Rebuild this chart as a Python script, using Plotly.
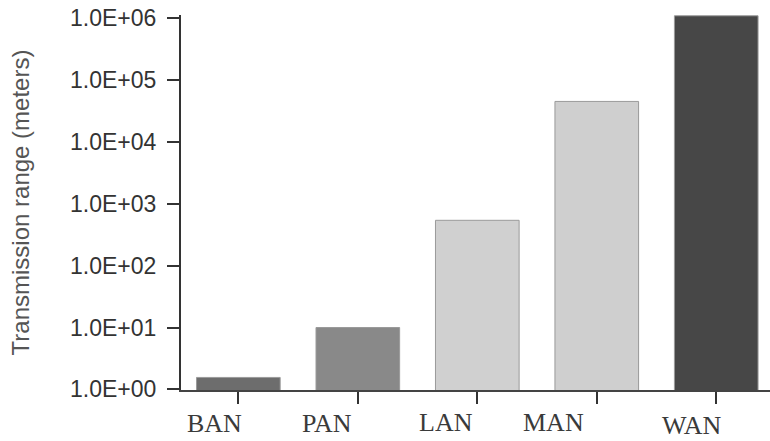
import plotly.graph_objects as go

categories = ["BAN", "PAN", "LAN", "MAN", "WAN"]
ranges_m = [1.56, 10.0, 540.0, 45000.0, 1.09e6]
bar_colors = ["#6d6d6d", "#898989", "#d0d0d0", "#cfcfcf", "#474747"]
tick_vals = [1, 10, 100, 1000, 10000, 100000, 1000000]
tick_text = ["1.0E+00", "1.0E+01", "1.0E+02", "1.0E+03", "1.0E+04", "1.0E+05", "1.0E+06"]
label_xshift = [-24, -31, -31, -43, -25]
label_yshift = [-33, -33, -32, -32, -35]

fig = go.Figure()
fig.add_trace(go.Bar(
    x=categories, y=ranges_m, width=0.7,
    marker=dict(color=bar_colors, line=dict(color="#9a9a9a", width=1)),
    showlegend=False,
))

for c, dx, dy in zip(categories, label_xshift, label_yshift):
    fig.add_annotation(
        x=c, xref="x", y=0, yref="paper", text=c, showarrow=False,
        xshift=dx, yshift=dy, yanchor="middle",
        font=dict(family="Liberation Serif", size=26, color="#3a3a3a"),
    )

fig.update_layout(
    width=770, height=441,
    margin=dict(l=181, r=0, t=15, b=51),
    paper_bgcolor="white", plot_bgcolor="white",
    xaxis=dict(
        type="category", range=[-0.48, 4.45],
        showticklabels=False, ticks="outside", ticklen=12, tickwidth=2,
        tickcolor="#333333", showline=True, linecolor="#444444", linewidth=2,
        showgrid=False, zeroline=False,
    ),
    yaxis=dict(
        type="log", range=[-0.01, 6.05],
        tickvals=tick_vals, ticktext=tick_text,
        ticks="outside", ticklen=12, tickwidth=2, tickcolor="#333333",
        ticklabelstandoff=6,
        showline=True, linecolor="#333333", linewidth=2,
        showgrid=False, zeroline=False,
        tickfont=dict(family="Liberation Sans", size=23, color="#333333"),
        title=dict(text="Transmission range (meters)", standoff=34,
                   font=dict(family="Liberation Sans", size=24, color="#555555")),
    ),
)

fig.write_html("out.html", config={"displayModeBar": False},
               post_script="document.body.style.margin='0';")
